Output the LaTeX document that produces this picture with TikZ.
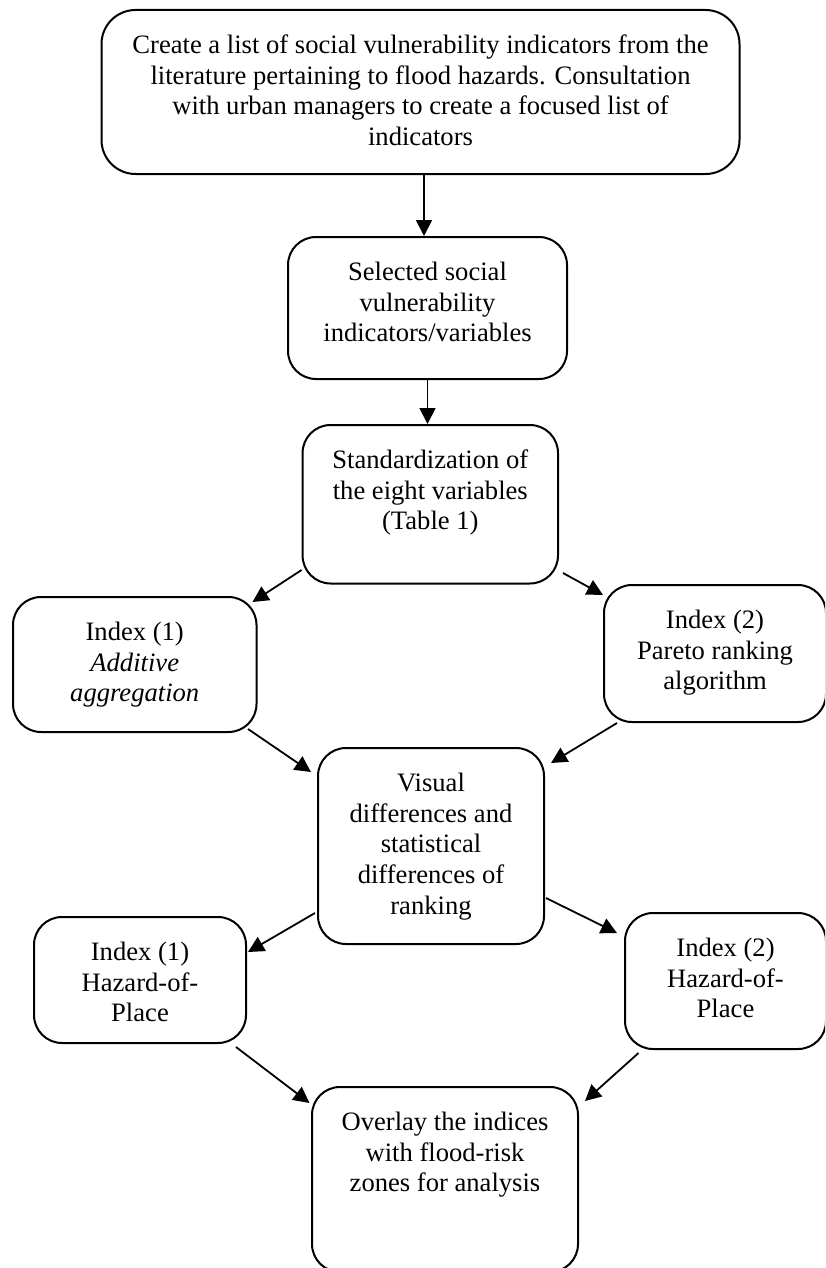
\documentclass[tikz,border=0pt]{standalone}
\usepackage{fontspec}
\setmainfont{Liberation Serif}
\usetikzlibrary{positioning, calc, arrows.meta}

\newcommand{\boxtext}[3]{\parbox[c][#1][t]{#2}{\centering\vspace*{11pt}\strut #3}}

\begin{document}
\begin{tikzpicture}[x=0.5pt, y=-0.5pt,
				FlowBox/.style={draw, rounded corners=14pt, line width=1pt, inner sep=0pt, font=\fontsize{13.3pt}{15.35pt}\selectfont},
				FlowArrow/.style={line width=0.9pt, -{Triangle[length=8pt, width=8pt]}}]

			% Canvas
			\useasboundingbox (0,0) rectangle (825,1268);
			\clip (0,0) rectangle (825,1268);

			% Nodes
			\node[FlowBox, rounded corners=17pt] (List) at (420.5,92) {\boxtext{82pt}{319pt}{Create a list of social vulnerability indicators from the\\ literature pertaining to flood hazards. Consultation\\ with urban managers to create a focused list of\\ indicators}};
			\node[FlowBox] (Selected) at (427.5,308) {\boxtext{71pt}{139.5pt}{Selected social\\ vulnerability\\ indicators/variables}};
			\node[FlowBox] (Standard) at (430.3,504.25) {\boxtext{79.25pt}{127.7pt}{Standardization of\\ the eight variables\\ (Table 1)}};
			\node[FlowBox] (IndexOne) at (134.75,664.5) {\boxtext{67.5pt}{121.75pt}{Index (1)\\ \textit{Additive}\\ \textit{aggregation}}};
			\node[FlowBox] (IndexTwo) at (715,653.5) {\boxtext{68.5pt}{111pt}{Index (2)\\ Pareto ranking\\ algorithm}};
			\node[FlowBox] (Visual) at (431,846) {\boxtext{98pt}{113pt}{Visual\\ differences and\\ statistical\\ differences of\\ ranking}};
			\node[FlowBox] (HazardOne) at (140,980) {\boxtext{63pt}{106pt}{Index (1)\\ Hazard-of-\\ Place}};
			\node[FlowBox] (HazardTwo) at (725.5,981) {\boxtext{68pt}{100.5pt}{Index (2)\\ Hazard-of-\\ Place}};
			\node[FlowBox] (Overlay) at (445,1179.5) {\boxtext{92.5pt}{133pt}{Overlay the indices\\ with flood-risk\\ zones for analysis}};

			% Lines
			\draw[FlowArrow] ($(List.south)+(3.5,0)$) to ($(Selected.north)+(-3.5,0)$);
			\draw[FlowArrow] (Selected.south) to (Selected.south |- Standard.north);

			\draw[FlowArrow] ($(Standard.south west)+(0,-14.5)$) to ($(IndexOne.north east)+(-5,6)$);
			\draw[FlowArrow] ($(Standard.south east)+(4,-11.5)$) to ($(IndexTwo.north west)+(0,11)$);

			\draw[FlowArrow] ($(IndexOne.south east)+(-9.5,-4)$) to ($(Visual.north west)+(-6,25)$);
			\draw[FlowArrow] ($(IndexTwo.south west)+(14,0)$) to ($(Visual.north east)+(6,16)$);

			\draw[FlowArrow] ($(Visual.south west)+(-2,-32)$) to ($(HazardOne.north east)+(1,36)$);
			\draw[FlowArrow] ($(Visual.south east)+(1,-47)$) to ($(HazardTwo.north west)+(-7,21)$);

			\draw[FlowArrow] ($(HazardOne.south east)+(-11,3)$) to ($(Overlay.north west)+(-1.5,17)$);
			\draw[FlowArrow] ($(HazardTwo.south west)+(14.5,3)$) to ($(Overlay.north east)+(6,15)$);
		\end{tikzpicture}
\end{document}
